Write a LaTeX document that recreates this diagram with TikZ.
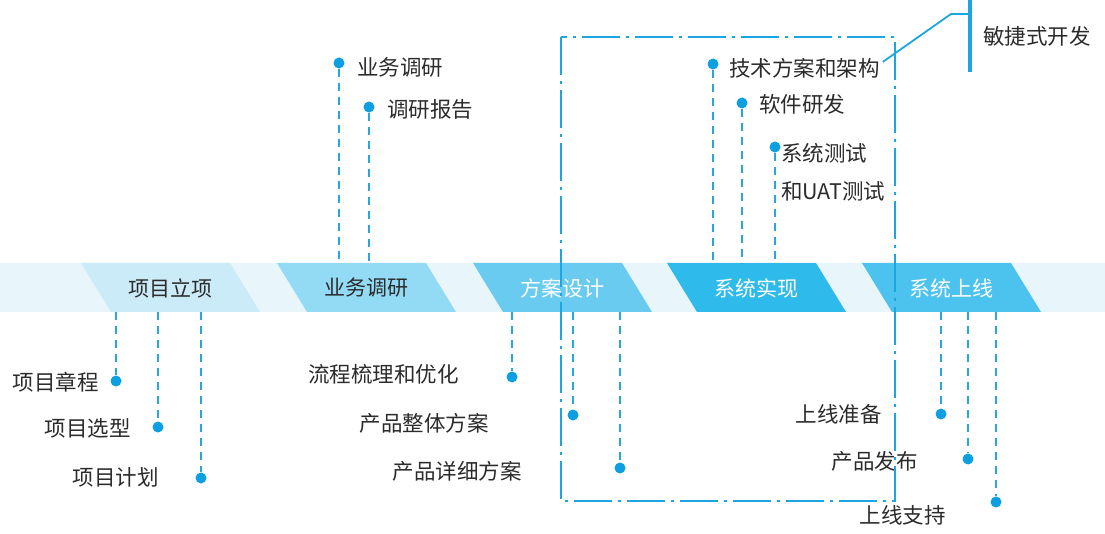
\documentclass[tikz,border=0pt]{standalone}
\usepackage{fontspec}
\setmainfont{Noto Sans CJK SC}
\usetikzlibrary{positioning}
\definecolor{bandbg}{HTML}{E8F6FC}
\definecolor{phaseA}{HTML}{CBEBF9}
\definecolor{phaseB}{HTML}{93DAF5}
\definecolor{phaseC}{HTML}{6ACBF1}
\definecolor{phaseD}{HTML}{2FBAEC}
\definecolor{phaseE}{HTML}{4CC3EF}
\definecolor{leadblue}{HTML}{2AA6DF}
\definecolor{dotblue}{HTML}{0E9FE0}
\definecolor{boxblue}{HTML}{1BA5E1}
\definecolor{textdark}{HTML}{2B2B2B}
\tikzset{lead/.style={draw=leadblue, line width=2pt, dash pattern=on 8pt off 6pt}}
\tikzset{pin/.style={circle, fill=dotblue, inner sep=0pt, minimum size=11pt}}
\tikzset{item/.style={inner sep=0pt, text=textdark, font=\fontsize{21.5}{24}\selectfont}}
\tikzset{phase/.style={inner sep=0pt, font=\fontsize{21}{24}\selectfont}}
\tikzset{agile/.style={draw=boxblue, line width=2pt, dash pattern=on 38pt off 6pt on 3pt off 6pt}}

\begin{document}
\begin{tikzpicture}[x=1pt, y=-1pt]
  \useasboundingbox (0,0) rectangle (1105,534);
  % band with the five phases
  \fill[bandbg] (0,263) rectangle (1105,312);
  \foreach \x/\t/\c/\f [count=\i] in {81/项目立项/phaseA/textdark, 277/业务调研/phaseB/textdark,
      473/方案设计/phaseC/white, 667/系统实现/phaseD/white, 862/系统上线/phaseE/white} {
    \fill[\c] (\x,263) -- ++(149,0) -- ++(30,49) -- ++(-149,0) -- cycle;
    \node[phase, text=\f] (p\i) at (\x+89.5,288) {\t};
  }
  % pins above the band
  \foreach \n/\x/\y in {t1/339/63, t2/369/107, t3/713/64, t4/742/103, t5/775/147} {
    \coordinate (\n-band) at (\x,263);
    \node[pin] (\n) at (\x,\y) {};
    \draw[lead] (\n) -- (\n-band);
  }
  % pins below the band
  \foreach \n/\x/\y in {b1/116/381, b2/158/427, b3/201/478, b4/512/377, b5/573/415,
      b6/620/468, b7/941/414, b8/968/459, b9/996/502} {
    \coordinate (\n-band) at (\x,312);
    \node[pin] (\n) at (\x,\y) {};
    \draw[lead] (\n-band) -- (\n);
  }
  \node[item, anchor=west] (research) at (357,67) {业务调研};
  \node[item, anchor=west] (report) at (387,109) {调研报告};
  \node[item, anchor=west] (arch) at (729,68) {技术方案和架构};
  \node[item, anchor=west] (dev) at (759,104) {软件研发};
  \node[item, anchor=west] (systest) at (781,153) {系统测试};
  \node[item, anchor=west] (uat) at (781,191) {和UAT测试};
  \node[item, anchor=east] (charter) at (99,382) {项目章程};
  \node[item, anchor=east] (select) at (131,428) {项目选型};
  \node[item, anchor=east] (plan) at (159,477) {项目计划};
  \node[item, anchor=east] (flow) at (459,374) {流程梳理和优化};
  \node[item, anchor=east] (overall) at (489,423) {产品整体方案};
  \node[item, anchor=east] (detail) at (522,471) {产品详细方案};
  \node[item, anchor=east] (prep) at (882,414) {上线准备};
  \node[item, anchor=east] (release) at (918,461) {产品发布};
  \node[item, anchor=east] (support) at (946,515) {上线支持};
  % agile frame
  \draw[agile] (561,37) rectangle (895,501);
  \coordinate (bar-top) at (970,0);
  \coordinate (bar-bot) at (970,72);
  \coordinate (bend) at (951,14);
  \coordinate (bar-mid) at (970,14);
  \draw[boxblue, line width=3.2pt] (bar-top) -- (bar-bot);
  \draw[boxblue, line width=1.8pt] (arch.north east) ++(3,4) -- (bend) -- (bar-mid);
  \node[item, anchor=west] (agile) at (983,36) {敏捷式开发};
\end{tikzpicture}
\end{document}
